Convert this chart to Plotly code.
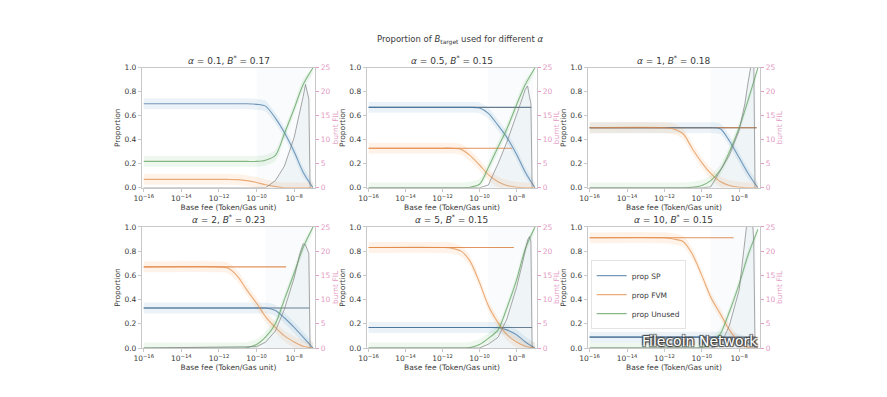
import numpy as np
import plotly.graph_objects as go

# ---------------- data ----------------
PROP_FEE = [1e-16, 1e-12, 3e-12, 1e-11, 3e-11, 1e-10, 3e-10, 1e-9, 3e-9, 1e-8, 3e-8, 1e-7]
BURNT_FEE = [1e-16, 1e-10, 3e-10, 1e-9, 3e-9, 1e-8, 2e-8, 3e-8, 4e-8, 5e-8, 6e-8, 7e-8]

ALPHAS = ["0.1", "0.5", "1", "2", "5", "10"]
B_STAR = ["0.17", "0.15", "0.18", "0.23", "0.15", "0.15"]

SP_A01 = [0.70, 0.70, 0.70, 0.70, 0.70, 0.695, 0.68, 0.58, 0.46, 0.30, 0.13, 0.0]
SP_A05 = [0.67, 0.67, 0.67, 0.67, 0.67, 0.665, 0.62, 0.52, 0.42, 0.28, 0.13, 0.0]
SP_A1 = [0.50, 0.50, 0.50, 0.50, 0.50, 0.50, 0.50, 0.49, 0.39, 0.25, 0.12, 0.0]
SP_A2 = [0.33, 0.33, 0.33, 0.33, 0.33, 0.33, 0.33, 0.31, 0.25, 0.17, 0.09, 0.0]
SP_A5 = [0.17, 0.17, 0.17, 0.17, 0.17, 0.17, 0.17, 0.168, 0.15, 0.11, 0.05, 0.0]
SP_A10 = [0.09, 0.09, 0.09, 0.09, 0.09, 0.09, 0.09, 0.09, 0.085, 0.07, 0.04, 0.0]

FVM_A01 = [0.07, 0.07, 0.07, 0.068, 0.06, 0.045, 0.025, 0.01, 0.0, 0.0, 0.0, 0.0]
FVM_A05 = [0.33, 0.33, 0.33, 0.32, 0.27, 0.19, 0.11, 0.05, 0.02, 0.005, 0.0, 0.0]
FVM_A1 = [0.50, 0.50, 0.49, 0.45, 0.33, 0.21, 0.12, 0.05, 0.02, 0.005, 0.0, 0.0]
FVM_A2 = [0.67, 0.67, 0.66, 0.59, 0.48, 0.37, 0.26, 0.17, 0.10, 0.05, 0.015, 0.0]
FVM_A5 = [0.83, 0.83, 0.825, 0.80, 0.72, 0.54, 0.35, 0.21, 0.11, 0.05, 0.015, 0.0]
FVM_A10 = [0.91, 0.91, 0.90, 0.88, 0.78, 0.60, 0.42, 0.28, 0.15, 0.05, 0.005, 0.0]

UN_A01 = [0.22, 0.22, 0.22, 0.22, 0.22, 0.22, 0.23, 0.27, 0.45, 0.66, 0.86, 1.0]
UN_A05 = [0.0, 0.0, 0.0, 0.0, 0.005, 0.03, 0.17, 0.34, 0.49, 0.69, 0.86, 1.0]
UN_A1 = [0.0, 0.0, 0.0, 0.0, 0.005, 0.02, 0.06, 0.15, 0.30, 0.50, 0.73, 1.0]
UN_A2 = [0.0, 0.0, 0.0, 0.0, 0.003, 0.03, 0.09, 0.20, 0.40, 0.62, 0.83, 1.0]
UN_A5 = [0.0, 0.0, 0.0, 0.0, 0.005, 0.03, 0.08, 0.15, 0.33, 0.56, 0.82, 1.0]
UN_A10 = [0.0, 0.0, 0.0, 0.0, 0.0, 0.005, 0.03, 0.12, 0.30, 0.53, 0.77, 0.98]

BURNT_A01 = [0, 0, 0, 1.5, 4.5, 10.5, 15.5, 19.0, 21.5, 20.0, 18.5, 0]
BURNT_A05 = [0, 0, 0.6, 5.0, 9.5, 15.0, 18.5, 20.5, 21.2, 19.0, 17.5, 0]
BURNT_A1 = [0, 0, 0.2, 3.5, 6.8, 12.0, 17.5, 22.0, 25.0, 27.0, 27.0, 0]
BURNT_A2 = [0, 0.3, 1.2, 3.5, 8.0, 14.5, 19.5, 21.5, 21.3, 20.5, 19.5, 0]
BURNT_A5 = [0, 0, 0.8, 2.2, 6.0, 12.5, 17.2, 20.5, 22.3, 23.0, 22.0, 0]
BURNT_A10 = [0, 0, 0, 0.6, 4.7, 12.0, 23.5, 28.0, 28.0, 27.0, 22.0, 0]

# end of the horizontal reference lines (start level = first value)
REF_SP_END = [None, 6.3e-8, 8.5e-8, 6.3e-8, 6.9e-8, 8e-8]
REF_FVM_END = [None, 5.9e-9, 8.5e-8, 3.7e-9, 7.2e-9, 5e-9]
# light tinted region of sampled runs
TINT_START = [1e-10, 3e-10, 3e-10, 3e-10, 3e-10, 3e-10]
TINT_END = [8e-8, 8e-8, 8e-8, 8e-8, 8e-8, 8e-8]

X_TICKS = [1e-16, 1e-14, 1e-12, 1e-10, 1e-8]
X_TICK_TEXT = ["10<sup>−16</sup>", "10<sup>−14</sup>", "10<sup>−12</sup>", "10<sup>−10</sup>", "10<sup>−8</sup>"]
Y_TICKS = [0, 0.2, 0.4, 0.6, 0.8, 1.0]
Y2_TICKS = [0, 5, 10, 15, 20, 25]

SP_ALL = [SP_A01, SP_A05, SP_A1, SP_A2, SP_A5, SP_A10]
FVM_ALL = [FVM_A01, FVM_A05, FVM_A1, FVM_A2, FVM_A5, FVM_A10]
UN_ALL = [UN_A01, UN_A05, UN_A1, UN_A2, UN_A5, UN_A10]
BURNT_ALL = [BURNT_A01, BURNT_A05, BURNT_A1, BURNT_A2, BURNT_A5, BURNT_A10]

# ---------------- style / layout ----------------
WIN_W, WIN_H = 887, 397
OFF = 8                       # default page margin of the html body
W, H = WIN_W - OFF, WIN_H - OFF
COLS = [(135, 310), (362, 534), (585, 759)]   # window pixels
ROWS = [(65, 188), (228, 352)]
FONT = "DejaVu Sans"
TXT = "#3a3a3a"
AX = "#c8c8c8"
PINK = "#e49ac4"


def px(xp):
    return (xp - OFF) / W


def py(yp):
    return 1 - (yp - OFF) / H


C_SP = "rgba(70,120,165,0.75)"
C_SP_REF = "rgba(75,100,125,0.85)"
C_SP_BAND = "rgba(31,119,180,0.09)"
C_FVM = "rgba(225,140,70,0.7)"
C_FVM_REF = "rgba(220,120,50,0.8)"
C_FVM_BAND = "rgba(255,127,14,0.09)"
C_UN = "rgba(95,160,95,0.75)"
C_UN_BAND = "rgba(44,160,44,0.08)"
C_BURNT = "rgba(130,130,130,0.7)"
C_BURNT_FILL = "rgba(140,175,195,0.09)"
C_TINT = "rgba(165,195,210,0.07)"

fig = go.Figure()


def aname(prefix, n):
    return prefix if n == 1 else f"{prefix}{n}"


LEG_NAMES = ["prop SP", "prop FVM", "prop Unused"]

for i in range(6):
    r, c = divmod(i, 3)
    xn, yn, y2n = i + 1, i + 1, i + 7
    xr, yr, y2r = aname("x", xn), aname("y", yn), aname("y", y2n)

    fig.add_trace(go.Scatter(x=[TINT_START[i], TINT_END[i]], y=[1, 1], mode="lines",
                             line=dict(width=0), fill="tozeroy", fillcolor=C_TINT,
                             xaxis=xr, yaxis=yr, showlegend=False, hoverinfo="skip"))

    series = [(SP_ALL[i], C_SP, C_SP_BAND, C_SP_REF, REF_SP_END[i]),
              (FVM_ALL[i], C_FVM, C_FVM_BAND, C_FVM_REF, REF_FVM_END[i]),
              (UN_ALL[i], C_UN, C_UN_BAND, None, None)]

    for vals, col, band, _, _ in series:
        v = np.array(vals)
        hi = np.clip(v + 0.045, 0, 1)
        lo = np.clip(v - 0.045, 0, 1)
        fig.add_trace(go.Scatter(x=PROP_FEE, y=hi, mode="lines",
                                 line=dict(width=0, shape="spline", smoothing=0.8),
                                 xaxis=xr, yaxis=yr, showlegend=False, hoverinfo="skip"))
        fig.add_trace(go.Scatter(x=PROP_FEE, y=lo, mode="lines",
                                 line=dict(width=0, shape="spline", smoothing=0.8),
                                 fill="tonexty", fillcolor=band,
                                 xaxis=xr, yaxis=yr, showlegend=False, hoverinfo="skip"))

    for vals, col, band, refcol, refend in series:
        if refend is not None:
            fig.add_trace(go.Scatter(x=[PROP_FEE[0], refend], y=[vals[0], vals[0]], mode="lines",
                                     line=dict(color=refcol, width=1.1),
                                     xaxis=xr, yaxis=yr, showlegend=False, hoverinfo="skip"))

    for k, (vals, col, band, _, _) in enumerate(series):
        fig.add_trace(go.Scatter(x=PROP_FEE, y=vals, mode="lines",
                                 line=dict(color=col, width=1.1, shape="spline", smoothing=0.8),
                                 name=LEG_NAMES[k],
                                 xaxis=xr, yaxis=yr, showlegend=(i == 5)))

    fig.add_trace(go.Scatter(x=BURNT_FEE, y=BURNT_ALL[i], mode="lines",
                             line=dict(color=C_BURNT, width=1.0),
                             fill="tozeroy", fillcolor=C_BURNT_FILL,
                             xaxis=xr, yaxis=y2r, showlegend=False, hoverinfo="skip"))

    xd = [px(COLS[c][0]), px(COLS[c][1])]
    yd = [py(ROWS[r][1]), py(ROWS[r][0])]

    fig.layout[aname("xaxis", xn)] = dict(
        type="log", domain=xd, anchor=yr, range=[-16.1, -6.88],
        tickvals=X_TICKS, ticktext=X_TICK_TEXT, tickfont=dict(size=7.5, color=TXT, family=FONT),
        ticks="outside", ticklen=3, tickcolor=AX, showline=True, linecolor=AX, mirror=True,
        showgrid=False, zeroline=False,
        title=dict(text="Base fee (Token/Gas unit)", font=dict(size=7.5, color=TXT, family=FONT), standoff=1))
    fig.layout[aname("yaxis", yn)] = dict(
        domain=yd, anchor=xr, range=[0, 1], tickvals=Y_TICKS, tickformat=".1f",
        tickfont=dict(size=7.5, color=TXT, family=FONT), ticks="outside", ticklen=3, tickcolor=AX,
        showline=True, linecolor=AX, showgrid=False, zeroline=False,
        title=dict(text="Proportion", font=dict(size=7.5, color=TXT, family=FONT), standoff=2))
    fig.layout[aname("yaxis", y2n)] = dict(
        overlaying=yr, anchor=xr, side="right", range=[0, 25], tickvals=Y2_TICKS,
        tickfont=dict(size=7.5, color=PINK, family=FONT), ticks="outside", ticklen=3, tickcolor=PINK,
        showline=True, linecolor=AX, showgrid=False, zeroline=False,
        title=dict(text="burnt FIL", font=dict(size=7.5, color=PINK, family=FONT), standoff=0))

    fig.add_annotation(x=(xd[0] + xd[1]) / 2, y=yd[1], xref="paper", yref="paper",
                       xanchor="center", yanchor="bottom", yshift=0, showarrow=False,
                       text=f"<i>α</i> = {ALPHAS[i]}, <i>B</i><sup>*</sup> = {B_STAR[i]}",
                       font=dict(size=9, color=TXT, family=FONT))

fig.add_annotation(x=px(456), y=py(37), xref="paper", yref="paper", showarrow=False,
                   xanchor="center", yanchor="middle",
                   text="Proportion of <i>B</i><sub>target</sub> used for different <i>α</i>",
                   font=dict(size=8.5, color=TXT, family=FONT))

fig.add_annotation(x=px(698), y=py(345), xref="paper", yref="paper", showarrow=False,
                   xanchor="center", yanchor="middle",
                   text="Filecoin Network",
                   font=dict(size=14, color="white", family=FONT,
                             shadow="1px 1px 1px #444, -1px -1px 1px #444, 1px -1px 1px #444, -1px 1px 1px #444"))

fig.update_layout(
    width=W, height=H, margin=dict(l=0, r=0, t=0, b=0),
    paper_bgcolor="white", plot_bgcolor="white",
    font=dict(family=FONT, color=TXT),
    legend=dict(x=px(588), y=py(262), xanchor="left", yanchor="top",
                traceorder="normal",
                font=dict(size=7.5, color=TXT, family=FONT),
                bgcolor="rgba(255,255,255,0.8)", bordercolor="#e4e4e4", borderwidth=1,
                tracegroupgap=0, itemwidth=30),
)

fig.write_html("out.html")
